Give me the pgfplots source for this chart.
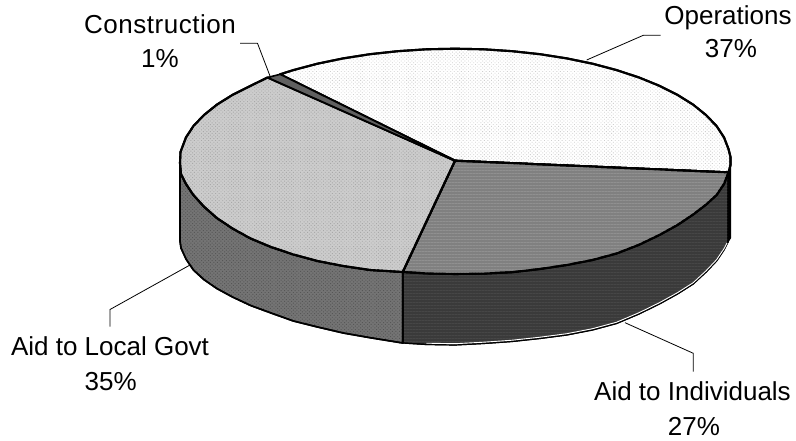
\documentclass[border=0pt]{standalone}
\usepackage{fontspec}
\setmainfont{Liberation Sans}
\usepackage{pgfplots}
\pgfplotsset{compat=1.18}
\usetikzlibrary{patterns.meta}

\definecolor{opsTop}{HTML}{FFFFFF}
\definecolor{opsDot}{HTML}{CFCFCF}
\definecolor{indTop}{HTML}{808080}
\definecolor{indLine}{HTML}{909090}
\definecolor{locTop}{HTML}{CCCCCC}
\definecolor{locDot}{HTML}{A8A8A8}
\definecolor{conTop}{HTML}{606060}
\definecolor{indSide}{HTML}{3A3A3A}
\definecolor{indSideLine}{HTML}{464646}
\definecolor{locSide}{HTML}{747474}
\definecolor{locSideDot}{HTML}{565656}

\newcommand{\pielabel}[3]{\node[anchor=base,inner sep=0pt,font=\fontsize{26}{30}\selectfont] at (axis cs:#1,#2) {#3};}

\begin{document}
\begin{tikzpicture}
\begin{axis}[
    scale only axis, width=796pt, height=441pt,
    xmin=0, xmax=796, ymin=0, ymax=441, y dir=reverse,
    hide axis, clip=false,
    every axis plot/.append style={line join=round},
]
% Rim of the disc, back to front
\addplot[fill=black, draw=black, line width=1pt] coordinates {
  (730.5,165) (730.5,238) (727.5,243) (727.5,172)
} --cycle;
\addplot[preaction={fill=indSide}, pattern={Lines[angle=0,distance=3pt,line width=1pt]}, pattern color=indSideLine, draw=black, line width=1.2pt] coordinates {
  (728,172.4) (724,184) (716.6,195) (706.2,204.5) (693.2,214.5) (677.5,225)
  (659.4,235) (639,244.8) (616.6,253.5) (592.5,260) (566.8,265) (540,269)
  (512.2,272.2) (483.7,273.6) (455,274) (426.3,273.4) (402.7,272)
  (402.7,343) (426.3,344.5) (455,345) (483.7,343.5) (512.2,341.5) (540,338.5)
  (566.8,335) (592.5,330) (616.6,323.5) (639,314) (659.4,304) (677.5,294)
  (693.2,284) (706.2,272) (716.6,261) (724,250) (728,242)
} --cycle;
\addplot[draw=white, line width=0.9pt] coordinates {
  (426.3,343.2) (455,343.7) (483.7,342.2) (512.2,340.2) (540,337.2)
  (566.8,333.7) (592.5,328.7) (616.6,322.2) (639,312.7) (659.4,302.7)
  (677.5,292.7) (693.2,282.7) (706.2,270.7) (716.6,259.7) (724,248.7) (727,243)
};
\addplot[preaction={fill=locSide}, pattern={Dots[angle=45,distance=2.5pt,radius=0.7pt]}, pattern color=locSideDot, draw=black, line width=1.6pt] coordinates {
  (180,163) (181,174) (186,184) (193.4,195) (203.8,206.5) (216.8,218)
  (232.5,228.5) (250.6,238.5) (271,247) (293.4,254.5) (317.5,261) (343.2,266)
  (370,270) (402.7,272)
  (402.7,343) (370,337.7) (343.2,333) (317.5,327) (293.4,321) (271,313)
  (250.6,305.5) (232.5,297) (216.8,288.5) (203.8,279.5) (193.4,270) (186,259)
  (181,248) (180,241)
} --cycle;
% Top face, one wedge per category
\addplot[preaction={fill=opsTop}, pattern={Dots[angle=45,distance=2.5pt,radius=0.6pt]}, pattern color=opsDot, draw=black, line width=2.1pt] coordinates {
  (455,160.7) (728.5,172.4) (730.5,165) (730.5,157) (728.5,149) (724,137.4)
  (716.6,126.1) (706.2,115.2) (693.2,104.7) (677.5,94.9) (659.4,85.8) (639,77.5)
  (616.6,70.1) (592.5,63.7) (566.8,58.4) (540,54.2) (512.2,51.2) (483.7,49.3)
  (455,48.7) (426.3,49.3) (397.8,51.2) (370,54.2) (343.2,58.4) (317.5,63.7)
  (293.4,70.1) (280.1,74.3)
} --cycle;
\addplot[preaction={fill=indTop}, pattern={Lines[angle=0,distance=3pt,line width=1pt]}, pattern color=indLine, draw=black, line width=2.1pt] coordinates {
  (455,160.7) (402.7,272) (426.3,273.4) (455,274) (483.7,273.6) (512.2,272.2)
  (540,269) (566.8,265) (592.5,260) (616.6,253.5) (639,244.8) (659.4,235)
  (677.5,225) (693.2,214.5) (706.2,204.5) (716.6,195) (724,184) (728.5,172.4)
} --cycle;
\addplot[preaction={fill=locTop}, pattern={Dots[angle=45,distance=2.5pt,radius=0.65pt]}, pattern color=locDot, draw=black, line width=2.1pt] coordinates {
  (455,160.7) (267.6,77.5) (250.6,85.8) (232.5,94.9) (216.8,104.7) (203.8,115.2)
  (193.4,126.1) (186,137.4) (180.5,152) (180,163) (181,174) (186,184) (193.4,195)
  (203.8,206.5) (216.8,218) (232.5,228.5) (250.6,238.5) (271,247) (293.4,254.5)
  (317.5,261) (343.2,266) (370,270) (402.7,272)
} --cycle;
\addplot[fill=conTop, draw=black, line width=1.6pt] coordinates {
  (455,160.7) (280.1,74.3) (267.6,77.5)
} --cycle;
% Leader lines from the labels to the disc
\addplot[draw=black, line width=0.8pt] coordinates {(586.7,60) (643.3,35.3) (660.7,35.3)};
\addplot[draw=black, line width=0.8pt] coordinates {(240,43.3) (257.5,43.3) (270,76)};
\addplot[draw=black, line width=0.8pt] coordinates {(625,322.7) (693.3,353.3) (693.3,371.7)};
\addplot[draw=black, line width=0.8pt] coordinates {(190,265) (110,309.5) (110,326.7)};
% Labels
\pielabel{728}{25}{Operations}
\pielabel{731}{58}{37\%}
\pielabel{160}{33.5}{\addfontfeature{LetterSpace=2}Construction}
\pielabel{160}{68}{1\%}
\pielabel{692.5}{400.7}{Aid to Individuals}
\pielabel{694}{435}{27\%}
\pielabel{110}{355.7}{Aid to Local Govt}
\pielabel{110.7}{390}{35\%}
\end{axis}
\path[use as bounding box] (current axis.south west) rectangle (current axis.north east);
\end{tikzpicture}
\end{document}
